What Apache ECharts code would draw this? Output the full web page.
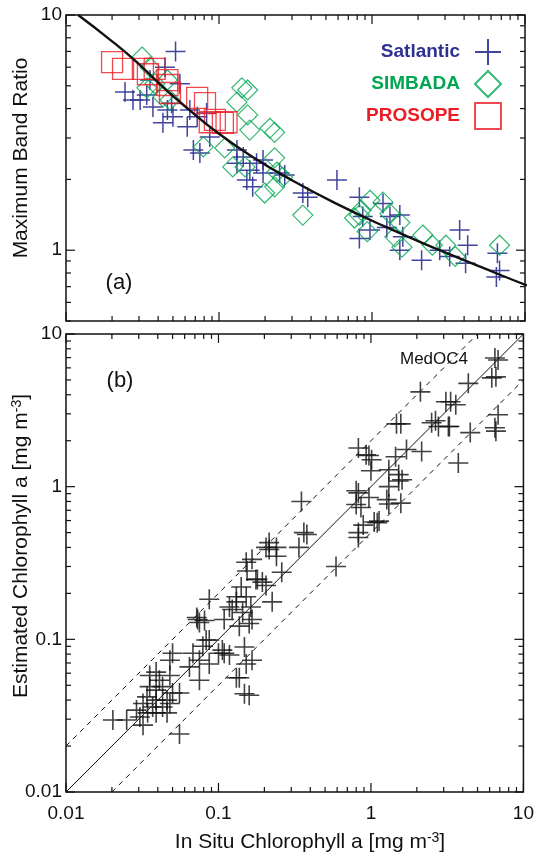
<!DOCTYPE html>
<html><head><meta charset="utf-8">
<script src="https://cdn.jsdelivr.net/npm/echarts@6/dist/echarts.min.js"></script>
<style>html,body{margin:0;padding:0;background:#fff}#c{width:537px;height:857px}</style>
</head><body><div id="c"></div>
<script>
// ---- data ----
const satlanticPoints = [[0.052,7.0],[0.0305,4.35],[0.0337,4.57],[0.037,4.06],[0.046,3.95],[0.050,3.69],[0.043,3.48],[0.0443,6.0],[0.0555,5.1],[0.0645,3.95],[0.072,3.69],[0.068,2.67],[0.075,2.59],[0.062,3.35],[0.083,3.83],[0.087,3.03],[0.131,2.67],[0.144,2.49],[0.159,2.19],[0.176,2.34],[0.152,1.99],[0.166,1.86],[0.194,2.13],[0.131,2.34],[0.0354,5.29],[0.049,4.22],[0.0243,4.7],[0.0274,4.35],[0.59,1.99],[0.353,1.75],[0.38,1.68],[0.269,2.09],[0.827,1.68],[1.18,1.58],[0.87,1.39],[0.97,1.22],[0.827,1.12],[1.25,1.25],[1.52,1.41],[1.59,1.14],[1.52,1.0],[2.11,0.907],[2.77,1.0],[3.74,1.22],[3.22,0.94],[4.22,1.05],[4.09,0.88],[6.6,0.97],[6.82,0.82],[6.5,0.77],[1.31,1.39],[0.194,2.42],[0.249,2.13]];
const simbadaPoints = [[0.0314,6.63],[0.0354,6.0],[0.0338,4.9],[0.0381,5.1],[0.046,5.29],[0.0478,4.35],[0.043,4.48],[0.141,4.9],[0.154,4.8],[0.131,4.26],[0.154,3.76],[0.159,3.24],[0.215,3.3],[0.079,2.75],[0.109,2.72],[0.123,2.26],[0.148,2.26],[0.231,2.47],[0.239,2.15],[0.199,1.75],[0.231,1.86],[0.26,2.04],[0.231,3.17],[0.353,1.41],[0.768,1.37],[0.85,1.48],[0.97,1.63],[1.18,1.60],[1.31,1.43],[1.52,1.31],[1.41,1.14],[1.57,1.03],[2.15,1.16],[2.48,1.05],[3.04,1.05],[3.5,0.94],[6.82,1.05],[0.93,1.2],[0.827,1.41]];
const prosopePoints = [[0.02,6.3],[0.0236,5.9],[0.0318,5.9],[0.038,5.9],[0.0343,5.6],[0.046,5.29],[0.0478,4.66],[0.072,4.44],[0.081,4.22],[0.094,3.58],[0.106,3.48],[0.112,3.5],[0.087,3.5],[0.046,5.04]];
const curveChl = [0.012,0.019,0.029,0.042,0.063,0.098,0.163,0.293,0.575,1.22,2.77,6.61,10.3];
const curveRatio = [10,7.94,6.31,5.01,3.98,3.16,2.51,2.0,1.585,1.259,1.0,0.794,0.708];
const medoc4Points = [[2.11,4.18],[1.47,2.58],[2.5,2.62],[2.77,2.48],[3.33,3.6],[3.6,3.44],[3.22,2.48],[4.48,2.26],[4.35,4.75],[6.5,6.97],[6.82,6.76],[6.2,5.16],[6.82,2.96],[6.5,2.43],[3.74,1.43],[2.15,1.7],[1.71,1.75],[1.45,1.57],[0.827,1.79],[0.93,1.62],[1.01,1.5],[1.31,1.29],[1.52,1.2],[1.6,1.11],[1.27,0.823],[1.57,0.78],[0.827,0.91],[0.8,0.764],[0.86,0.73],[0.97,0.85],[1.05,0.587],[1.13,0.595],[0.827,0.5],[0.59,0.3],[0.35,0.8],[0.363,0.5],[0.337,0.4],[0.24,0.4],[0.215,0.388],[6.6,5.24],[6.6,2.31],[3.1,3.6],[2.65,2.7],[3.27,2.48],[1.57,2.58],[0.97,1.6],[1.0,1.27],[1.52,1.09],[1.31,1.0],[0.8,0.94],[1.31,0.77],[0.89,0.56],[1.1,0.58],[0.38,0.486],[0.215,0.43],[0.205,0.4],[0.24,0.35],[0.166,0.334],[0.154,0.28],[0.26,0.275],[0.18,0.247],[0.205,0.225],[0.141,0.22],[0.152,0.19],[0.131,0.176],[0.225,0.176],[0.163,0.163],[0.118,0.163],[0.144,0.15],[0.166,0.135],[0.109,0.135],[0.081,0.133],[0.137,0.122],[0.827,0.465],[0.072,0.139],[0.075,0.129],[0.152,0.32],[0.194,0.237],[0.131,0.19],[0.123,0.157],[0.159,0.127],[0.087,0.099],[0.079,0.09],[0.106,0.085],[0.068,0.081],[0.075,0.073],[0.087,0.069],[0.109,0.081],[0.0645,0.066],[0.05,0.081],[0.048,0.073],[0.148,0.089],[0.166,0.073],[0.152,0.069],[0.131,0.056],[0.148,0.044],[0.159,0.043],[0.039,0.061],[0.0354,0.058],[0.041,0.054],[0.048,0.058],[0.0354,0.049],[0.039,0.0465],[0.043,0.049],[0.034,0.042],[0.039,0.04],[0.046,0.04],[0.032,0.038],[0.037,0.036],[0.043,0.036],[0.048,0.038],[0.0343,0.033],[0.039,0.033],[0.046,0.033],[0.0305,0.031],[0.0203,0.0296],[0.025,0.0296],[0.029,0.0344],[0.05,0.0445],[0.0555,0.0445],[0.0555,0.024],[0.032,0.0274],[0.075,0.054],[0.1,0.081],[0.118,0.079],[0.137,0.056],[0.083,0.099],[0.073,0.135],[0.176,0.247],[0.087,0.183]];
const oneToOne = [[0.01,0.01],[10,10]];
const upperLine = [[0.01,0.02],[5,10]];
const lowerLine = [[0.02,0.01],[10,5]];

// ---- axis ticks / labels ----
const xTickLabels = [0.01, 0.1, 1, 10];
const topYTickLabels = [1, 10];
const botYTickLabels = [0.01, 0.1, 1, 10];
const minorMult = [2,3,4,5,6,7,8,9];
const xMinor = [0.01,0.1,1].flatMap(d => minorMult.map(m => +(d*m).toPrecision(3)));
const topYMinor = [0.5,0.6,0.7,0.8,0.9].concat(minorMult);
const botYMinor = xMinor;

const BLUE = '#2E3192', GREEN = '#00A651', RED = '#ED1C24', INK = '#111';
const FONT = 'Liberation Sans, Arial, Helvetica, sans-serif';
const PLUS = 'path://M0,10 L20,10 M10,0 L10,20';

function labelFmt(list) {
  return function (v) {
    for (const t of list) if (Math.abs(Math.log10(v) - Math.log10(t)) < 1e-6) return String(t);
    return '';
  };
}

function tickSeries(g, dir, vals, len, ref) {
  return {
    type: 'custom', xAxisIndex: g, yAxisIndex: g, silent: true, z: 20, clip: false,
    data: vals.map(v => dir === 'x' ? [v, ref] : [ref, v]),
    renderItem(params, api) {
      const cs = params.coordSys;
      const p = api.coord([api.value(0), api.value(1)]);
      const st = { stroke: INK, lineWidth: 1.2 };
      if (dir === 'x') {
        const b = cs.y + cs.height, t = cs.y;
        return { type: 'group', children: [
          { type: 'line', shape: { x1: p[0], y1: b, x2: p[0], y2: b - len }, style: st },
          { type: 'line', shape: { x1: p[0], y1: t, x2: p[0], y2: t + len }, style: st } ] };
      } else {
        const l = cs.x, r = cs.x + cs.width;
        return { type: 'group', children: [
          { type: 'line', shape: { x1: l, y1: p[1], x2: l + len, y2: p[1] }, style: st },
          { type: 'line', shape: { x1: r, y1: p[1], x2: r - len, y2: p[1] }, style: st } ] };
      }
    }
  };
}

const chart = echarts.init(document.getElementById('c'), null, { renderer: 'canvas' });
const baseAxis = {
  type: 'log', logBase: 10,
  axisLine: { show: false }, axisTick: { show: false }, splitLine: { show: false },
};
const lblStyle = { fontSize: 19, color: INK, fontFamily: FONT };

chart.setOption({
  backgroundColor: '#fff',
  animation: false,
  textStyle: { fontFamily: FONT },
  grid: [
    { left: 66, top: 15, width: 459, height: 306, show: true, borderColor: INK, borderWidth: 1.5 },
    { left: 66, top: 334, width: 459, height: 458, show: true, borderColor: INK, borderWidth: 1.5 }
  ],
  xAxis: [
    Object.assign({}, baseAxis, { gridIndex: 0, min: 0.01, max: 10, axisLabel: { show: false } }),
    Object.assign({}, baseAxis, { gridIndex: 1, min: 0.01, max: 10,
      axisLabel: Object.assign({ margin: 12, showMinLabel: true, showMaxLabel: true, formatter: labelFmt(xTickLabels) }, lblStyle) })
  ],
  yAxis: [
    Object.assign({}, baseAxis, { gridIndex: 0, min: 0.5, max: 10,
      axisLabel: Object.assign({ margin: 4, showMinLabel: true, showMaxLabel: true, formatter: labelFmt(topYTickLabels) }, lblStyle) }),
    Object.assign({}, baseAxis, { gridIndex: 1, min: 0.01, max: 10,
      axisLabel: Object.assign({ margin: 4, showMinLabel: true, showMaxLabel: true, formatter: labelFmt(botYTickLabels) }, lblStyle) })
  ],
  legend: {
    orient: 'vertical', right: 30, top: 33, align: 'right',
    itemWidth: 26, itemHeight: 26, itemGap: 4,
    textStyle: { fontSize: 19, fontWeight: 'bold', fontFamily: FONT, padding: [0, 10, 0, 0] },
    data: [
      { name: 'Satlantic', textStyle: { color: BLUE } },
      { name: 'SIMBADA', textStyle: { color: GREEN } },
      { name: 'PROSOPE', textStyle: { color: RED } }
    ]
  },
  graphic: [
    { type: 'text', x: 119, y: 283, style: { text: '(a)', font: '22px ' + FONT, fill: INK, align: 'center', verticalAlign: 'middle' } },
    { type: 'text', x: 120, y: 381, style: { text: '(b)', font: '22px ' + FONT, fill: INK, align: 'center', verticalAlign: 'middle' } },
    { type: 'text', x: 400, y: 359, style: { text: 'MedOC4', font: '17px ' + FONT, fill: INK, align: 'left', verticalAlign: 'middle' } },
    { type: 'text', x: 21, y: 158, rotation: Math.PI / 2,
      style: { text: 'Maximum Band Ratio', font: '21px ' + FONT, fill: INK, align: 'center', verticalAlign: 'middle' } },
    { type: 'text', x: 21, y: 546, rotation: Math.PI / 2,
      style: { text: 'Estimated Chlorophyll a [mg m{sup|-3}]', font: '21px ' + FONT, fill: INK, align: 'center', verticalAlign: 'middle',
        rich: { sup: { fontSize: 14, fontFamily: FONT, verticalAlign: 'top', fill: INK } } } },
    { type: 'text', x: 310, y: 842,
      style: { text: 'In Situ Chlorophyll a [mg m{sup|-3}]', font: '21px ' + FONT, fill: INK, align: 'center', verticalAlign: 'middle',
        rich: { sup: { fontSize: 14, fontFamily: FONT, verticalAlign: 'top', fill: INK } } } }
  ],
  series: [
    { name: 'Satlantic', type: 'scatter', xAxisIndex: 0, yAxisIndex: 0, data: satlanticPoints,
      symbol: PLUS, symbolSize: 20, itemStyle: { color: 'rgba(0,0,0,0)', borderColor: BLUE, borderWidth: 1.5, opacity: 0.9 } },
    { name: 'SIMBADA', type: 'scatter', xAxisIndex: 0, yAxisIndex: 0, data: simbadaPoints,
      symbol: 'diamond', symbolSize: 20, itemStyle: { color: 'rgba(0,0,0,0)', borderColor: GREEN, borderWidth: 1.2 } },
    { name: 'PROSOPE', type: 'scatter', xAxisIndex: 0, yAxisIndex: 0, data: prosopePoints,
      symbol: 'rect', symbolSize: 21, itemStyle: { color: 'rgba(0,0,0,0)', borderColor: RED, borderWidth: 1.3 } },
    { name: 'curve', type: 'line', xAxisIndex: 0, yAxisIndex: 0, smooth: true, symbol: 'none', z: 5,
      data: curveChl.map((c, i) => [c, curveRatio[i]]), lineStyle: { color: INK, width: 2.4 } },
    { name: 'medoc4', type: 'scatter', xAxisIndex: 1, yAxisIndex: 1, data: medoc4Points,
      symbol: PLUS, symbolSize: 20, itemStyle: { color: 'rgba(0,0,0,0)', borderColor: INK, borderWidth: 1.6 } },
    { name: '1:1', type: 'line', xAxisIndex: 1, yAxisIndex: 1, data: oneToOne, symbol: 'none',
      lineStyle: { color: INK, width: 1 } },
    { name: 'x2', type: 'line', xAxisIndex: 1, yAxisIndex: 1, data: upperLine, symbol: 'none',
      lineStyle: { color: INK, width: 1, type: [5, 5] } },
    { name: 'x0.5', type: 'line', xAxisIndex: 1, yAxisIndex: 1, data: lowerLine, symbol: 'none',
      lineStyle: { color: INK, width: 1, type: [5, 5] } },
    tickSeries(0, 'x', xTickLabels, 9, 1), tickSeries(0, 'x', xMinor, 5, 1),
    tickSeries(0, 'y', topYTickLabels, 9, 1), tickSeries(0, 'y', topYMinor, 5, 1),
    tickSeries(1, 'x', xTickLabels, 9, 1), tickSeries(1, 'x', xMinor, 5, 1),
    tickSeries(1, 'y', botYTickLabels, 9, 1), tickSeries(1, 'y', botYMinor, 5, 1)
  ]
});
</script>
</body></html>
